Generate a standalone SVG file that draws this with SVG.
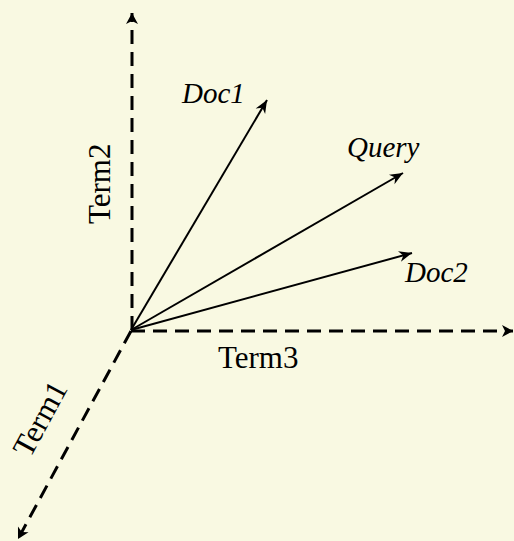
<svg xmlns="http://www.w3.org/2000/svg" width="514" height="541" viewBox="0 0 514 541">
  <style>
    .axis { stroke: #000; stroke-width: 3; stroke-dasharray: 14 8; fill: none; }
    .vec { stroke: #000; stroke-width: 2; fill: none; }
    .lbl { font-family: "Liberation Serif", "Times New Roman", serif; font-size: 31px; fill: #000; }
    .it { font-style: italic; font-size: 29px; }
  </style>
  <defs>
    <marker id="axhead" markerUnits="userSpaceOnUse" viewBox="-12 -7 14 14" refX="0" refY="0" markerWidth="14" markerHeight="14" orient="auto">
      <path d="M-11,-6 L0,0 L-11,6 L-8,0 Z" fill="#000"/>
    </marker>
    <marker id="vhead" markerUnits="userSpaceOnUse" viewBox="-14 -7 16 14" refX="0" refY="0" markerWidth="16" markerHeight="14" orient="auto">
      <path d="M-13,-5.5 L0,0 L-13,5.5 L-9,0 Z" fill="#000"/>
    </marker>
  </defs>
  <rect width="514" height="541" fill="#f9f9e2"/>

  <g id="connectors">
    <path class="axis" d="M132,330 L132,13" marker-end="url(#axhead)"/>
    <path class="axis" d="M131,331 L513,331" marker-end="url(#axhead)"/>
    <path class="axis" d="M131,331 L18,539" marker-end="url(#axhead)"/>
    <path class="vec" d="M131,330 L267,100" marker-end="url(#vhead)"/>
    <path class="vec" d="M131,330 L403,173" marker-end="url(#vhead)"/>
    <path class="vec" d="M131,330 L412,253" marker-end="url(#vhead)"/>
  </g>

  <g id="term2"><text class="lbl" transform="translate(110,224) rotate(-90)">Term2</text></g>
  <g id="term3"><text class="lbl" x="218" y="368">Term3</text></g>
  <g id="term1"><text class="lbl" transform="translate(30,459) rotate(-61.5)">Term1</text></g>
  <g id="doc1"><text class="lbl it" x="182" y="103">Doc1</text></g>
  <g id="query"><text class="lbl it" x="347" y="157">Query</text></g>
  <g id="doc2"><text class="lbl it" x="405" y="282">Doc2</text></g>
</svg>
